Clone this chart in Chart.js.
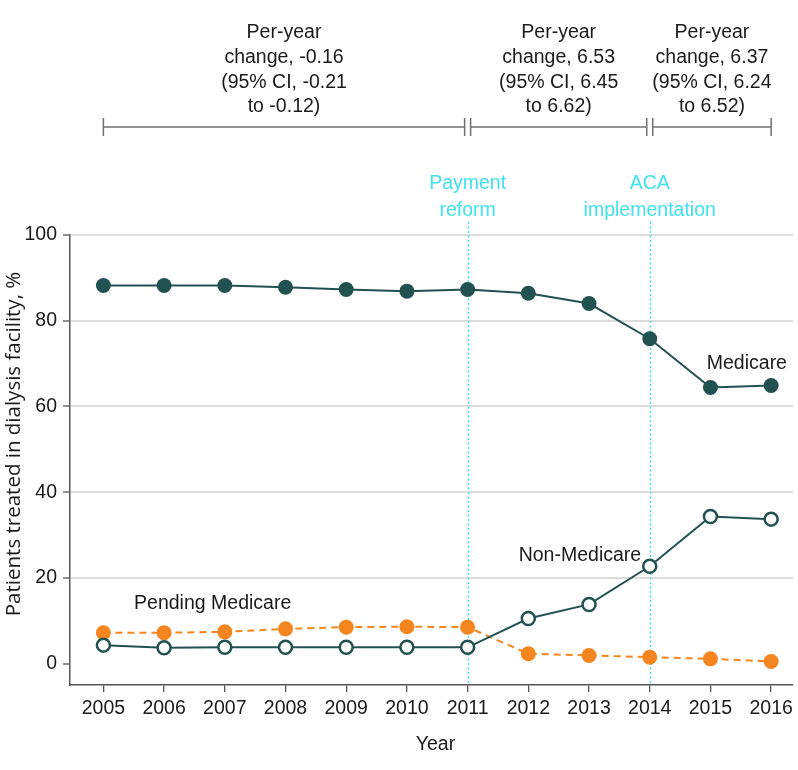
<!DOCTYPE html>
<html>
<head>
<meta charset="utf-8">
<script src="https://cdn.jsdelivr.net/npm/chart.js@4"></script>
<style>
  html, body { margin: 0; padding: 0; background: #fff; }
  #wrap { width: 798px; height: 770px; }
</style>
</head>
<body>
<div id="wrap"><canvas id="grafico"></canvas></div>
<script>
const anos = [2005, 2006, 2007, 2008, 2009, 2010, 2011, 2012, 2013, 2014, 2015, 2016]
const medicare = [88.2, 88.2, 88.2, 87.8, 87.3, 86.9, 87.3, 86.4, 84.0, 75.8, 64.4, 64.9]
const naoMedicare = [4.3, 3.7, 3.8, 3.8, 3.8, 3.8, 3.8, 10.5, 13.8, 22.7, 34.3, 33.7]
const pendente = [7.2, 7.2, 7.4, 8.1, 8.5, 8.6, 8.5, 2.3, 1.9, 1.5, 1.1, 0.5]
const ticksY = [0, 20, 40, 60, 80, 100]

const tituloX = 'Year'
const tituloY = 'Patients treated in dialysis facility, %'

// marcos verticais
const eventos = [2011, 2014]
const eventosTexto = [['Payment', 'reform'], ['ACA', 'implementation']]

// periodos com variacao anual
const periodos = [[2005, 2011], [2011, 2014], [2014, 2016]]
const periodosTexto = [
    ['Per-year', 'change, -0.16', '(95% CI, -0.21', 'to -0.12)'],
    ['Per-year', 'change, 6.53', '(95% CI, 6.45', 'to 6.62)'],
    ['Per-year', 'change, 6.37', '(95% CI, 6.24', 'to 6.52)']
]

// rotulos das series [x, y]
const rotulos = [
    { texto: 'Medicare', x: 2015.6, y: 70 },
    { texto: 'Non-Medicare', x: 2012.85, y: 25.2 },
    { texto: 'Pending Medicare', x: 2006.8, y: 14 }
]

const fonte = '"Liberation Sans", Arial, sans-serif'
const teal = '#225250'
const laranja = '#f5861f'
const ciano = '#3fe2ee'
const texto = '#1a1a1a'

const pontos = (vals) => anos.map((a, i) => ({ x: a, y: vals[i] }))

const anotacoes = {
    id: 'anotacoes',
    beforeDatasetsDraw(chart) {
        const ctx = chart.ctx
        const x = chart.scales.x
        const area = chart.chartArea
        ctx.save()
        ctx.strokeStyle = ciano
        ctx.lineWidth = 1.5
        ctx.setLineDash([2, 2.5])
        eventos.forEach(ev => {
            const px = Math.round(x.getPixelForValue(ev)) + 0.5
            ctx.beginPath()
            ctx.moveTo(px, area.top - 13)
            ctx.lineTo(px, area.bottom)
            ctx.stroke()
        })
        ctx.restore()
    },
    afterDatasetsDraw(chart) {
        const ctx = chart.ctx
        const x = chart.scales.x
        const y = chart.scales.y
        const area = chart.chartArea
        ctx.save()
        ctx.font = '19.5px ' + fonte
        ctx.textAlign = 'center'
        ctx.textBaseline = 'middle'

        // textos dos eventos
        ctx.fillStyle = ciano
        eventos.forEach((ev, i) => {
            const px = x.getPixelForValue(ev)
            eventosTexto[i].forEach((t, j) => {
                ctx.fillText(t, px, area.top - 51 + j * 27)
            })
        })

        // rotulos das series
        ctx.fillStyle = texto
        rotulos.forEach(r => {
            ctx.fillText(r.texto, x.getPixelForValue(r.x), y.getPixelForValue(r.y))
        })

        // chaves no topo
        const yb = area.top - 108
        ctx.strokeStyle = '#707070'
        ctx.lineWidth = 1.5
        periodos.forEach((p, i) => {
            let x0 = x.getPixelForValue(p[0])
            let x1 = x.getPixelForValue(p[1])
            if (i > 0) x0 += 3
            if (i < periodos.length - 1) x1 -= 3
            ctx.beginPath()
            ctx.moveTo(x0, yb); ctx.lineTo(x1, yb)
            ctx.moveTo(x0, yb - 9); ctx.lineTo(x0, yb + 9)
            ctx.moveTo(x1, yb - 9); ctx.lineTo(x1, yb + 9)
            ctx.stroke()
            ctx.fillStyle = texto
            periodosTexto[i].forEach((t, j) => {
                ctx.fillText(t, (x0 + x1) / 2, yb - 94 + j * 24.7)
            })
        })

        // titulos dos eixos
        ctx.fillText(tituloX, (area.left + area.right) / 2 + 4, area.bottom + 60)
        ctx.font = '20.5px "Open Sans", sans-serif'
        ctx.translate(14, (area.top + area.bottom) / 2 - 16)
        ctx.rotate(-Math.PI / 2)
        ctx.fillText(tituloY, 0, 0)
        ctx.restore()
    }
}

const config = {
    type: 'line',
    data: {
        datasets: [
            {
                label: 'Medicare',
                data: pontos(medicare),
                borderColor: teal,
                backgroundColor: teal,
                borderWidth: 2,
                pointRadius: 7.5,
                pointBorderWidth: 0,
                pointBackgroundColor: teal,
                tension: 0
            },
            {
                label: 'Non-Medicare',
                data: pontos(naoMedicare),
                borderColor: teal,
                backgroundColor: '#fff',
                borderWidth: 2,
                pointRadius: 6.5,
                pointBorderWidth: 2.5,
                pointBorderColor: teal,
                pointBackgroundColor: '#fff',
                tension: 0
            },
            {
                label: 'Pending Medicare',
                data: pontos(pendente),
                borderColor: laranja,
                backgroundColor: laranja,
                borderWidth: 2,
                borderDash: [7, 5],
                pointRadius: 7.5,
                pointBorderWidth: 0,
                pointBackgroundColor: laranja,
                tension: 0
            }
        ]
    },
    options: {
        responsive: true,
        maintainAspectRatio: false,
        animation: false,
        layout: { autoPadding: false, padding: { top: 235, right: 5, left: 0, bottom: 0 } },
        plugins: { legend: { display: false }, tooltip: { enabled: false } },
        scales: {
            x: {
                type: 'linear',
                min: 2004.45,
                max: 2016.36,
                afterBuildTicks: (s) => { s.ticks = anos.map(v => ({ value: v })) },
                afterFit: (s) => { s.height = 85; s.paddingLeft = 0; s.paddingRight = 0 },
                grid: { drawOnChartArea: false, tickLength: 7, tickColor: '#555', lineWidth: 1.3 },
                border: { color: '#555', width: 1.5 },
                ticks: {
                    color: texto, font: { family: fonte, size: 19.5 }, padding: 5,
                    maxRotation: 0, callback: (v) => String(v)
                }
            },
            y: {
                min: -5,
                max: 100,
                afterBuildTicks: (s) => { s.ticks = ticksY.map(v => ({ value: v })) },
                afterFit: (s) => { s.width = 70 },
                grid: {
                    color: (c) => (c.tick && c.tick.value === 0) ? 'rgba(0,0,0,0)' : '#dcdcdc',
                    lineWidth: 2,
                    tickLength: 7,
                    tickColor: '#555',
                    tickWidth: 1.3
                },
                border: { color: '#555', width: 1.5 },
                ticks: { color: texto, font: { family: fonte, size: 19.5 }, padding: 6 }
            }
        }
    },
    plugins: [anotacoes]
}

const grafico = new Chart(document.querySelector('#grafico'), config)
</script>
</body>
</html>
